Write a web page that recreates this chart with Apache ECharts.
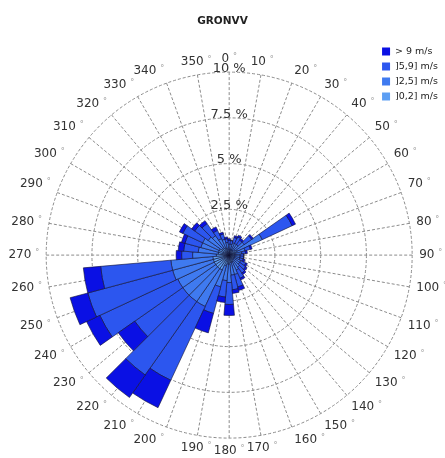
<!DOCTYPE html>
<html><head><meta charset="utf-8">
<script src="https://cdn.jsdelivr.net/npm/echarts@6/dist/echarts.min.js"></script>
<style>html,body{margin:0;padding:0;background:#fff}#c{width:445px;height:458px}</style>
</head><body><div id="c"></div>
<script>
// Direction bins (degrees, compass, clockwise from north)
const directions = [0,10,20,30,40,50,60,70,80,90,100,110,120,130,140,150,160,170,180,190,200,210,220,230,240,250,260,270,280,290,300,310,320,330,340,350];
// Radial ticks (% frequency)
const radialTicks = [0, 2.5, 5, 7.5, 10];
// Speed classes (legend order)
const speedClasses = ['> 9 m/s', ']5,9] m/s', ']2,5] m/s', ']0,2] m/s'];
const classColors = ['#0a10e4', '#2c56ef', '#3f7af0', '#5c9ef3'];
// Frequencies (%) per direction for each class
const speed_0_2 = [0.3,0.3,0.3,0.3,0.3,0.4,0.5,0.4,0.3,0.3,0.3,0.3,0.3,0.3,0.3,0.4,0.4,0.4,0.5,0.5,0.6,0.9,0.9,0.9,0.9,0.9,0.9,0.7,0.6,0.6,0.6,0.5,0.5,0.4,0.4,0.3];
const speed_2_5 = [0.3,0.3,0.4,0.4,0.4,0.6,1.5,0.5,0.4,0.3,0.3,0.3,0.4,0.4,0.5,0.5,0.7,0.7,1.0,0.9,1.2,2.2,2.2,2.2,2.2,2.3,2.3,1.3,1.1,1.0,1.0,0.9,0.8,0.6,0.5,0.4];
const speed_5_9 = [0.2,0.2,0.3,0.4,0.3,0.5,1.8,0.3,0.2,0.2,0.2,0.2,0.3,0.4,0.4,0.5,0.7,0.8,1.2,0.9,1.5,4.45,4.9,3.2,4.7,4.8,3.85,0.6,0.8,0.9,1.2,0.9,0.8,0.5,0.3,0.2];
const speed_gt9 = [0.1,0.0,0.1,0.1,0.1,0.1,0.2,0.1,0.1,0.0,0.0,0.1,0.1,0.1,0.1,0.1,0.2,0.2,0.6,0.3,1.1,1.65,1.5,1.1,0.8,1.0,0.95,0.3,0.3,0.2,0.2,0.2,0.2,0.2,0.1,0.1];

const FONT = 'DejaVu Sans';
const center = ['51.5%', '55.7%'];
const radius = 183;
const gridLine = { show: true, lineStyle: { color: '#8c8c8c', width: 1, type: [3, 2] } };

const seriesData = [
  { name: speedClasses[3], data: speed_0_2, color: classColors[3] },
  { name: speedClasses[2], data: speed_2_5, color: classColors[2] },
  { name: speedClasses[1], data: speed_5_9, color: classColors[1] },
  { name: speedClasses[0], data: speed_gt9, color: classColors[0] }
];

const chart = echarts.init(document.getElementById('c'), null, { renderer: 'canvas' });
chart.setOption({
  animation: false,
  backgroundColor: '#fff',
  textStyle: { fontFamily: FONT },
  title: {
    text: 'GRONVV', left: 'center', top: 11,
    textStyle: { fontFamily: FONT, fontSize: 10.5, fontWeight: 'bold', color: '#222' }
  },
  legend: {
    data: speedClasses, orient: 'vertical', right: 2, top: 41,
    itemWidth: 8, itemHeight: 8, itemGap: 4,
    itemStyle: { borderWidth: 0 },
    textStyle: { fontFamily: FONT, fontSize: 9.5, color: '#222', lineHeight: 11 },
    icon: 'rect'
  },
  polar: [
    { center: center, radius: radius },
    { center: center, radius: radius }
  ],
  angleAxis: [
    {
      polarIndex: 0, type: 'category', data: directions, startAngle: 95, clockwise: true,
      boundaryGap: true,
      axisLine: { show: false }, axisTick: { show: false }, axisLabel: { show: false }, splitLine: { show: false }
    },
    {
      polarIndex: 1, type: 'value', min: 0, max: 360, interval: 10, startAngle: 90, clockwise: true,
      axisLine: { show: false }, axisTick: { show: false },
      splitLine: gridLine,
      axisLabel: {
        margin: 7, align: 'center', verticalAlign: 'middle',
        formatter: v => (v >= 360 ? '' : '{n|' + v + '} {d|°}'),
        rich: {
          n: { fontFamily: FONT, fontSize: 12, color: '#333' },
          d: { fontFamily: FONT, fontSize: 8, color: '#999', verticalAlign: 'top', padding: [0, 0, 4, 0] }
        }
      }
    }
  ],
  radiusAxis: [
    {
      polarIndex: 0, type: 'value', min: 0, max: 10,
      axisLine: { show: false }, axisTick: { show: false }, axisLabel: { show: false }, splitLine: { show: false }
    },
    {
      polarIndex: 1, type: 'value', min: radialTicks[0], max: radialTicks[radialTicks.length - 1], interval: 2.5,
      axisLine: { show: false }, axisTick: { show: false },
      splitLine: gridLine,
      axisLabel: {
        margin: 0, align: 'center', verticalAlign: 'bottom', padding: [0, 0, -3, 0],
        fontFamily: FONT, fontSize: 13, color: '#333',
        formatter: v => v + ' %'
      }
    }
  ],
  series: seriesData.map(s => ({
    type: 'bar', name: s.name, coordinateSystem: 'polar', polarIndex: 0,
    stack: 'wind', data: s.data, barCategoryGap: '0%',
    itemStyle: { color: s.color, borderColor: '#101030', borderWidth: 0.6 },
    emphasis: { disabled: true }
  }))
});
</script>
</body></html>
